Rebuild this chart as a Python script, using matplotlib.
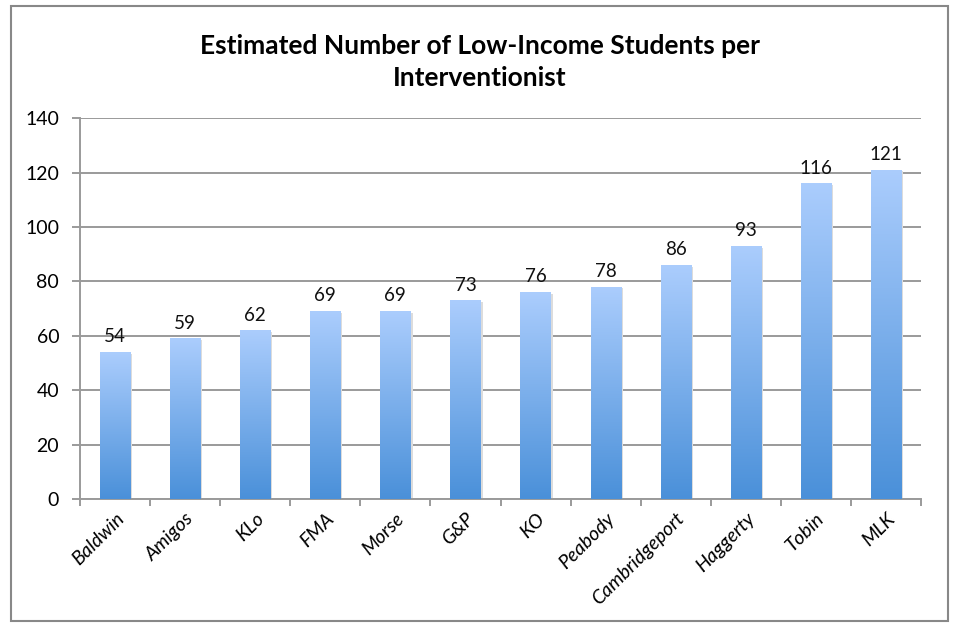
import matplotlib
matplotlib.use("Agg")
import matplotlib.pyplot as plt
import numpy as np
from matplotlib.patches import Rectangle
from matplotlib.colors import LinearSegmentedColormap

schools = ["Baldwin", "Amigos", "KLo", "FMA", "Morse", "G&P", "KO", "Peabody",
           "Cambridgeport", "Haggerty", "Tobin", "MLK"]
values = [54, 59, 62, 69, 69, 73, 76, 78, 86, 93, 116, 121]
yticks = [0, 20, 40, 60, 80, 100, 120, 140]
title = "Estimated Number of Low-Income Students per\nInterventionist"

plt.rcParams['font.family'] = ['Lato', 'DejaVu Sans']

fig = plt.figure(figsize=(9.59, 6.25), dpi=100)
ax = fig.add_axes([0.0834, 0.2016, 0.877, 0.6094])

# outer chart border
fig.patches.append(Rectangle((0.011, 0.006), 0.978, 0.985, transform=fig.transFigure,
                             fill=False, edgecolor="#888888", linewidth=1.5))

x = np.arange(len(schools))
width = 0.43
bars = ax.bar(x, values, width=width, color="none", edgecolor="none", zorder=3)

cmap = LinearSegmentedColormap.from_list("g", ["#4a90d9", "#abcdfd"])
grad = np.linspace(0, 1, 256).reshape(-1, 1)
for b, v in zip(bars, values):
    x0 = b.get_x()
    # subtle shadow
    ax.add_patch(Rectangle((x0 + 0.03, 0), width, v - 0.6, facecolor="#dcdcdc",
                           edgecolor="none", zorder=2))
    im = ax.imshow(grad, cmap=cmap, origin="lower", aspect="auto",
                   extent=(x0, x0 + width, 0, v), zorder=3)
    im.set_clip_path(b)
    ax.text(b.get_x() + width / 2, v + 2.5, str(v), ha="center", va="bottom",
            fontsize=13.5, color="#111111", zorder=4)

ax.set_xlim(-0.5, len(schools) - 0.5)
ax.set_ylim(0, 140)
ax.set_yticks(yticks)
ax.set_yticklabels([str(t) for t in yticks], fontsize=14)
ax.yaxis.grid(True, color="#9a9a9a", linewidth=1.4, zorder=0)
ax.set_axisbelow(True)

ax.set_xticks(x)
ax.set_xticklabels(schools, rotation=45, ha="right", rotation_mode="anchor",
                   fontsize=14, style="italic")
ax.tick_params(axis="x", which="major", length=0, pad=8)
ax.set_xticks(np.arange(-0.5, len(schools), 1.0), minor=True)
ax.tick_params(axis="x", which="minor", length=5, color="#9a9a9a", width=1.4)
ax.tick_params(axis="y", length=6, color="#9a9a9a", width=1.4, pad=9)

for s in ["top", "right"]:
    ax.spines[s].set_visible(False)
for s in ["left", "bottom"]:
    ax.spines[s].set_color("#9a9a9a")
    ax.spines[s].set_linewidth(1.4)

fig.text(0.5, 0.9, title, ha="center", va="center", fontsize=19,
         fontweight="bold", linespacing=1.4)

fig.savefig("out.png", dpi=100)
